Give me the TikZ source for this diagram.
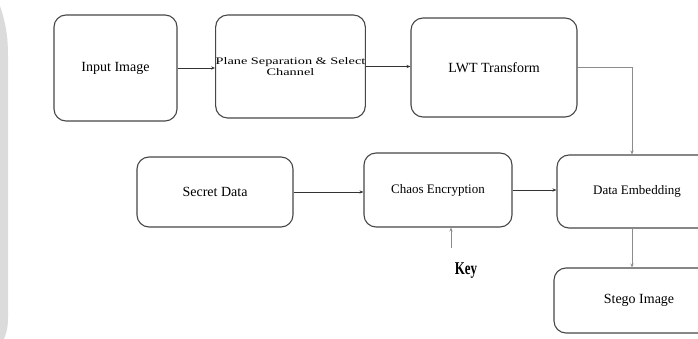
\documentclass[tikz,border=0pt]{standalone}
\usepackage{fontspec}
\usepackage{graphicx}
\setmainfont{Liberation Serif}
\usetikzlibrary{arrows.meta}
\begin{document}
\begin{tikzpicture}[x=1pt,y=-1pt,
  blockbox/.style={draw=black!72, line width=1.1pt, rounded corners=12pt,
    inner sep=0pt, align=center, font=\fontsize{14}{16}\selectfont},
  flow/.style={draw=black!80, line width=0.7pt,
    -{Stealth[length=4pt,width=3.2pt]}},
  thinflow/.style={flow, draw=black!45},
  keylabel/.style={inner sep=0pt, font=\fontsize{18}{20}\selectfont\bfseries}]

% page frame
\useasboundingbox (0,0) rectangle (698,339);
\clip (0,0) rectangle (698,339);
\fill[white] (0,0) rectangle (698,339);

% soft grey band along the left edge
\fill[black!14] (0,6) .. controls (4,18) and (8,32) .. (8,55)
  -- (8,318) .. controls (8,328) and (6,334) .. (4,339) -- (0,339) -- cycle;

% processing blocks
\node[blockbox, minimum width=123pt, minimum height=106pt] (input) at (115.5,68) {Input Image};
\node[blockbox, minimum width=149pt, minimum height=103pt,
      font=\fontsize{10}{10.5}\selectfont] (plane) at (290.5,66.5)
  {\scalebox{1.43}[1]{Plane Separation \& Select}\\\scalebox{1.43}[1]{Channel}};
\node[blockbox, minimum width=166pt, minimum height=99pt] (lwt) at (494,67.5) {LWT Transform};
\node[blockbox, minimum width=156pt, minimum height=70pt] (secret) at (215,192) {Secret Data};
\node[blockbox, minimum width=148pt, minimum height=74pt,
      font=\fontsize{13}{15}\selectfont] (chaos) at (438,190) {Chaos Encryption};
\node[blockbox, minimum width=160pt, minimum height=73pt,
      font=\fontsize{13}{15}\selectfont] (emb) at (637,191.5) {Data Embedding};
\node[blockbox, minimum width=170pt, minimum height=65pt] (stego) at (639,300.5) {Stego Image};
\node[keylabel] (key) at (466,271) {\scalebox{0.72}[1]{Key}};
\coordinate (keytop) at (451,248);

% connectors
\draw[flow] (input.east) -- (input.east -| plane.west);
\draw[flow] (plane.east) -- (plane.east -| lwt.west);
\draw[thinflow] (lwt.east) -| ([xshift=-5pt]emb.north);
\draw[flow] (secret.east) -- (secret.east -| chaos.west);
\draw[flow] (chaos.east) -- (chaos.east -| emb.west);
\draw[thinflow] ([xshift=-5pt]emb.south) -- ([xshift=-5pt]emb.south |- stego.north);
\draw[thinflow] (keytop) -- (keytop |- chaos.south);
\end{tikzpicture}
\end{document}
